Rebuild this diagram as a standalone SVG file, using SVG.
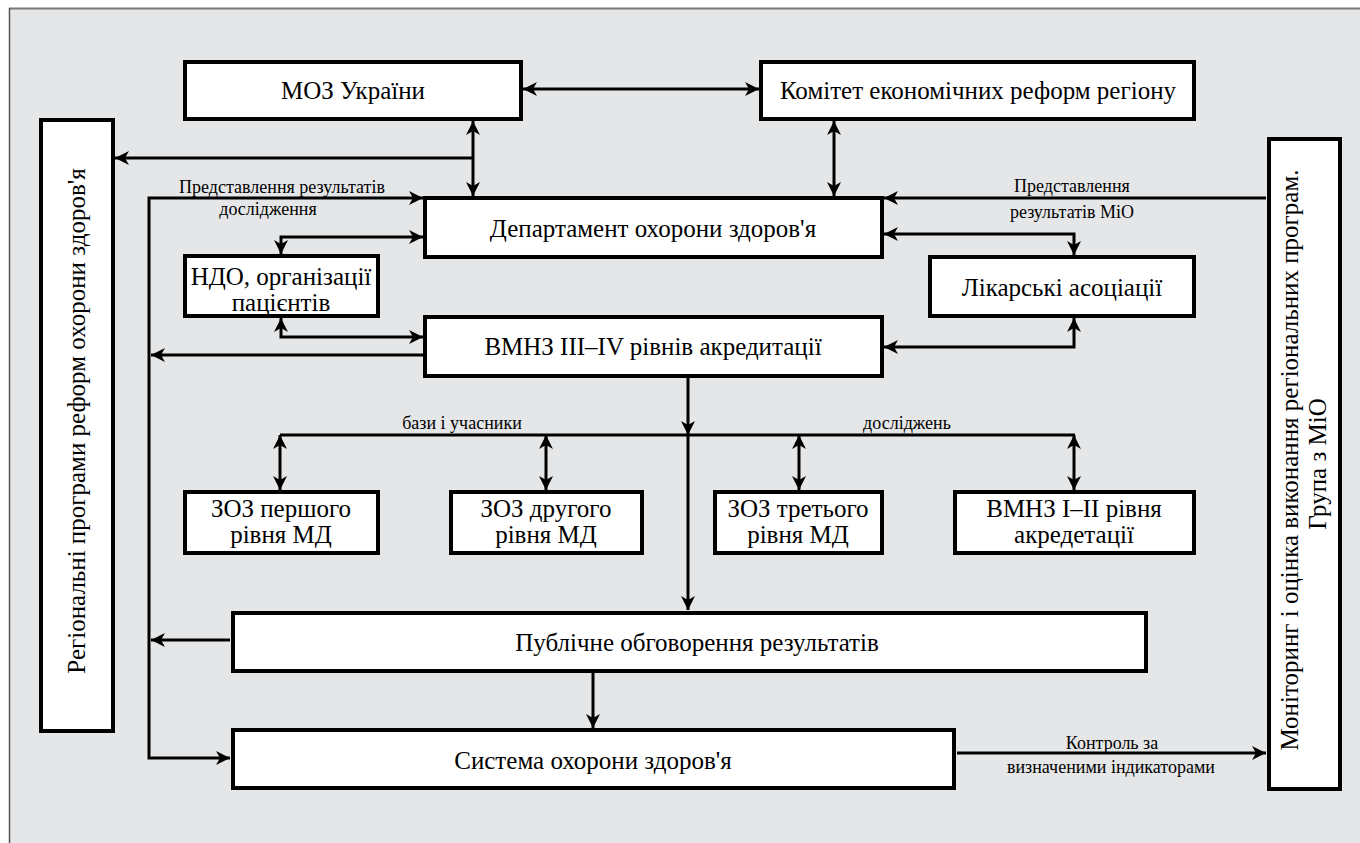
<svg xmlns="http://www.w3.org/2000/svg" width="1360" height="843" viewBox="0 0 1360 843">
<style>
.box{fill:#fff;stroke:#000;stroke-width:4}
.t{font-family:'Liberation Serif','DejaVu Serif',serif;font-size:25px;fill:#000;text-anchor:middle}
.s{font-family:'Liberation Serif','DejaVu Serif',serif;font-size:18px;fill:#000;text-anchor:middle}
.c{fill:none;stroke:#000;stroke-width:3}
.a{marker-end:url(#ah)}
.d{marker-start:url(#ah);marker-end:url(#ah)}
</style>
<defs>
<marker id="ah" markerUnits="userSpaceOnUse" markerWidth="16" markerHeight="16" refX="14" refY="7" orient="auto-start-reverse">
<path d="M0,0 L14,7 L0,14 L4,7 z" fill="#000"/>
</marker>
</defs>
<rect x="0" y="0" width="1360" height="843" fill="#fff"/>
<rect x="9" y="8" width="1360" height="843" fill="#e5e6e8"/>
<line x1="9" y1="8.5" x2="1360" y2="8.5" stroke="#777" stroke-width="2"/>
<line x1="9.5" y1="8" x2="9.5" y2="843" stroke="#555" stroke-width="1.5"/>

<g id="connectors">
<line class="c d" x1="523" y1="89" x2="759" y2="89"/>
<line class="c d" x1="473" y1="121" x2="473" y2="196"/>
<line class="c a" x1="473" y1="158" x2="115" y2="158"/>
<line class="c d" x1="834" y1="121" x2="834" y2="196"/>
<line class="c a" x1="1266" y1="198" x2="884" y2="198"/>
<path class="c d" d="M884,234 H1074 V255"/>
<path class="c d" d="M423,198 H149 V758 H230"/>
<path class="c d" d="M423,237 H281 V254"/>
<path class="c d" d="M281,318 V337 H423"/>
<line class="c a" x1="425" y1="355" x2="151" y2="355"/>
<path class="c d" d="M884,347 H1074 V318"/>
<line class="c a" x1="688" y1="378" x2="688" y2="435"/>
<line class="c a" x1="688" y1="435" x2="688" y2="610"/>
<line class="c" x1="280" y1="435" x2="1075" y2="435"/>
<line class="c d" x1="280" y1="435" x2="280" y2="490"/>
<line class="c d" x1="546" y1="435" x2="546" y2="490"/>
<line class="c d" x1="799" y1="435" x2="799" y2="490"/>
<line class="c d" x1="1074" y1="435" x2="1074" y2="490"/>
<line class="c a" x1="230" y1="640" x2="151" y2="640"/>
<line class="c a" x1="593" y1="673" x2="593" y2="728"/>
<line class="c a" x1="957" y1="753" x2="1266" y2="753"/>
<text class="s" x="282" y="193">Представлення результатів</text>
<text class="s" x="268" y="215">дослідження</text>
<text class="s" x="1072" y="192">Представлення</text>
<text class="s" x="1072" y="218">результатів МіО</text>
<text class="s" x="462" y="429">бази і учасники</text>
<text class="s" x="907" y="429">досліджень</text>
<text class="s" x="1112" y="749">Контроль за</text>
<text class="s" x="1111" y="773">визначеними індикаторами</text>
</g>

<g id="moz"><rect class="box" x="185" y="62" width="336" height="57"/><text class="t" x="353" y="99">МОЗ України</text></g>
<g id="komitet"><rect class="box" x="761" y="62" width="433" height="57"/><text class="t" x="978" y="99">Комітет економічних реформ регіону</text></g>
<g id="left"><rect class="box" x="41" y="120" width="72" height="611"/><text class="t" transform="translate(85,421) rotate(-90)">Регіональні програми реформ охорони здоров'я</text></g>
<g id="right"><rect class="box" x="1269" y="139" width="71" height="650"/><text class="t" transform="translate(1298,460) rotate(-90)">Моніторинг і оцінка виконання регіональних програм.</text><text class="t" transform="translate(1326,464) rotate(-90)">Група з МіО</text></g>
<g id="dept"><rect class="box" x="425" y="198" width="457" height="59"/><text class="t" x="653" y="237">Департамент охорони здоров'я</text></g>
<g id="ndo"><rect class="box" x="185" y="256" width="193" height="60"/><text class="t" x="281" y="285">НДО, організації</text><text class="t" x="281" y="311">пацієнтів</text></g>
<g id="likar"><rect class="box" x="930" y="257" width="264" height="59"/><text class="t" x="1062" y="296">Лікарські асоціації</text></g>
<g id="vmnz"><rect class="box" x="425" y="317" width="457" height="59"/><text class="t" x="653" y="355">ВМНЗ ІІІ–IV рівнів акредитації</text></g>
<g id="zoz1"><rect class="box" x="185" y="492" width="193" height="61"/><text class="t" x="281" y="517">ЗОЗ першого</text><text class="t" x="281" y="543">рівня МД</text></g>
<g id="zoz2"><rect class="box" x="451" y="492" width="191" height="61"/><text class="t" x="546" y="517">ЗОЗ другого</text><text class="t" x="546" y="543">рівня МД</text></g>
<g id="zoz3"><rect class="box" x="715" y="492" width="167" height="61"/><text class="t" x="798" y="517">ЗОЗ третього</text><text class="t" x="798" y="543">рівня МД</text></g>
<g id="vmnz12"><rect class="box" x="955" y="492" width="239" height="61"/><text class="t" x="1074" y="517">ВМНЗ І–ІІ рівня</text><text class="t" x="1074" y="543">акредетації</text></g>
<g id="public"><rect class="box" x="233" y="613" width="913" height="58"/><text class="t" x="697" y="651">Публічне обговорення результатів</text></g>
<g id="system"><rect class="box" x="233" y="730" width="721" height="58"/><text class="t" x="593" y="769">Система охорони здоров'я</text></g>
</svg>
